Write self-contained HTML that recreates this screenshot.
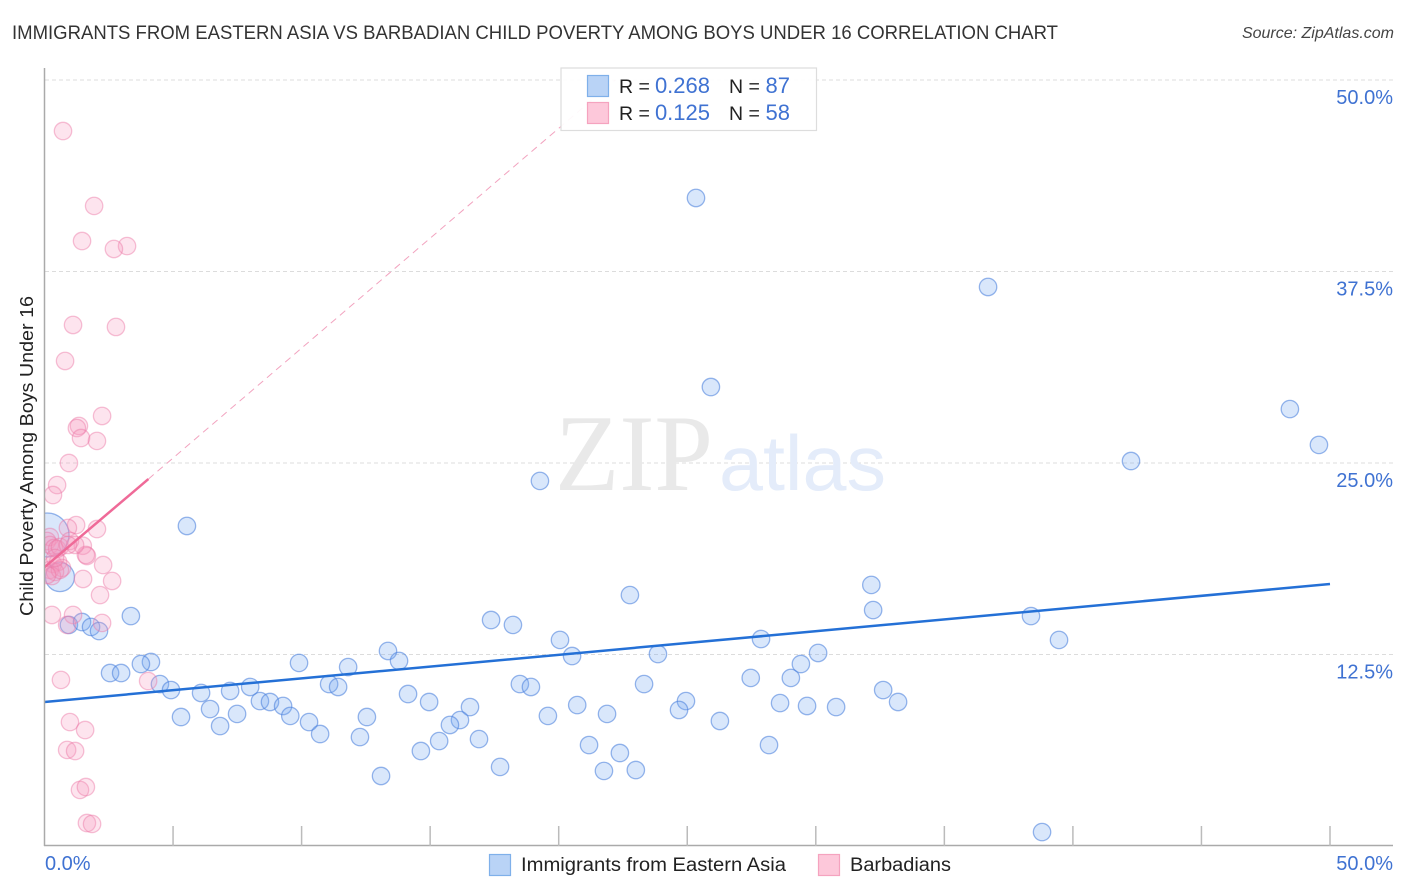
<!DOCTYPE html>
<html lang="en">
<head>
<meta charset="utf-8">
<title>Immigrants from Eastern Asia vs Barbadian Child Poverty Among Boys Under 16 Correlation Chart</title>
<style>
html,body{margin:0;padding:0;background:#fff;}
svg{display:block;font-family:"Liberation Sans",sans-serif;}
</style>
</head>
<body>
<svg id="chart" xmlns="http://www.w3.org/2000/svg" width="1406" height="892" viewBox="0 0 1406 892">
  <rect x="0" y="0" width="1406" height="892" fill="#fff"/>

  <g id="grid"></g>

  <g>
    <text x="555" y="490" font-family="'Liberation Serif',serif" font-size="109" fill="#e9e9e9" textLength="158" lengthAdjust="spacingAndGlyphs">ZIP</text>
    <text x="719" y="490" font-size="78" fill="#e4ecfa" textLength="167" lengthAdjust="spacingAndGlyphs">atlas</text>
  </g>

  <g id="marks"></g>
  <g id="trends"></g>

  <rect x="0" y="60" width="44.500" height="800" fill="#fff"/>
  <text x="12" y="39" font-size="19" fill="#333" textLength="1046" lengthAdjust="spacingAndGlyphs">IMMIGRANTS FROM EASTERN ASIA VS BARBADIAN CHILD POVERTY AMONG BOYS UNDER 16 CORRELATION CHART</text>
  <text x="1394" y="38" font-size="16" font-style="italic" fill="#444" text-anchor="end">Source: ZipAtlas.com</text>

  <g id="axes">
    <line x1="44.5" y1="68" x2="44.5" y2="846" stroke="#aaa" stroke-width="1.5"/>
    <line x1="44" y1="845.5" x2="1393" y2="845.5" stroke="#aaa" stroke-width="1.5"/>
  </g>
  <g id="tick-labels" font-size="20" fill="#3f72d2"></g>

  <text transform="translate(33,456) rotate(-90)" font-size="18.5" fill="#222" text-anchor="middle" textLength="320" lengthAdjust="spacingAndGlyphs">Child Poverty Among Boys Under 16</text>

  <g>
    <rect x="561" y="68" width="255.500" height="62.500" fill="#fff" fill-opacity="0.93" stroke="#ddd" stroke-width="1.2"/>
    <rect x="587.500" y="75.500" width="21" height="21" fill="#b9d3f6" stroke="#7fb0ea" stroke-width="1.2"/>
    <rect x="587.500" y="102.500" width="21" height="21" fill="#fdc8da" stroke="#f5a3bf" stroke-width="1.2"/>
    <g font-size="19.500">
      <text x="619" y="93" fill="#222">R =</text>
      <text x="710" y="93" fill="#3f72d2" text-anchor="end" font-size="22">0.268</text>
      <text x="729" y="93" fill="#222">N =</text>
      <text x="790" y="93" fill="#3f72d2" text-anchor="end" font-size="22">87</text>
      <text x="619" y="120" fill="#222">R =</text>
      <text x="710" y="120" fill="#3f72d2" text-anchor="end" font-size="22">0.125</text>
      <text x="729" y="120" fill="#222">N =</text>
      <text x="790" y="120" fill="#3f72d2" text-anchor="end" font-size="22">58</text>
    </g>
  </g>

  <g>
    <rect x="489.500" y="854.500" width="21" height="21" fill="#b9d3f6" stroke="#7fb0ea" stroke-width="1.2"/>
    <text x="521" y="871" font-size="19" fill="#222" textLength="265" lengthAdjust="spacingAndGlyphs">Immigrants from Eastern Asia</text>
    <rect x="818.500" y="854.500" width="21" height="21" fill="#fdc8da" stroke="#f5a3bf" stroke-width="1.2"/>
    <text x="850" y="871" font-size="19" fill="#222" textLength="101" lengthAdjust="spacingAndGlyphs">Barbadians</text>
  </g>
</svg>
<script>
var yGridValues = [50, 37.5, 25, 12.5];
var xTickValues = [5, 10, 15, 20, 25, 30, 35, 40, 45, 50];
var yTickLabels = ["50.0%", "37.5%", "25.0%", "12.5%"];
var xTickLabels = ["0.0%", "50.0%"];

var blueX = [25.34,36.70,25.92,48.44,49.57,42.26,19.27,5.54,32.16,22.77,32.23,17.37,18.22,38.37,3.36,39.46,20.05,27.87,13.36,20.52,23.86,30.09,9.90,13.79,4.14,3.75,11.81,29.42,2.55,2.98,29.03,27.47,4.49,4.92,11.07,11.42,18.49,18.92,23.32,32.62,6.09,7.22,8.00,14.14,8.38,8.77,9.28,14.96,20.72,24.95,28.61,29.66,30.79,33.20,16.55,6.44,24.68,21.88,5.31,7.49,9.56,12.54,19.58,16.16,15.77,10.29,26.27,6.83,10.72,12.27,15.35,16.90,21.18,28.18,14.64,22.38,17.72,21.76,23.00,13.09,38.80,0.95,1.46,1.81,2.12];
var blueY = [42.30,36.49,29.96,28.52,26.18,25.13,23.83,20.89,17.04,16.38,15.40,14.75,14.43,15.01,15.01,13.45,13.45,13.51,12.73,12.40,12.53,12.60,11.95,12.08,12.01,11.88,11.68,11.88,11.29,11.29,10.97,10.97,10.57,10.18,10.57,10.38,10.57,10.38,10.57,10.18,9.99,10.12,10.38,9.92,9.46,9.40,9.14,9.40,9.20,9.46,9.33,9.14,9.07,9.40,9.07,8.94,8.88,8.62,8.42,8.62,8.49,8.42,8.49,8.22,7.90,8.09,8.16,7.83,7.31,7.11,6.85,6.98,6.59,6.59,6.20,6.07,5.16,4.90,4.96,4.57,0.91,14.43,14.62,14.30,14.03];
var blueBigX = [0.10, 0.60];
var blueBigY = [20.30, 17.55];
var blueBigWeight = [22, 14.5];

var pinkX = [0.72,1.93,1.46,3.21,2.70,1.11,2.78,0.80,2.24,1.34,1.26,1.42,2.04,0.95,0.49,0.33,1.23,0.91,2.04,1.49,1.65,1.61,2.28,2.63,1.50,2.16,0.29,1.11,2.24,0.88,0.64,4.03,0.99,1.58,0.88,1.19,1.38,1.61,1.65,1.85,0.21,0.10,0.21,0.37,0.49,0.60,0.99,1.19,0.91,0.33,0.53,0.68,0.21,0.41,0.29,0.60,0.10,0.41];
var pinkY = [46.67,41.78,39.49,39.16,38.97,34.01,33.88,31.66,28.07,27.42,27.28,26.63,26.44,25.00,23.56,22.91,20.95,20.76,20.69,19.60,18.93,19.00,18.34,17.30,17.43,16.38,15.08,15.08,14.56,14.43,10.84,10.77,8.09,7.57,6.27,6.20,3.66,3.85,1.50,1.44,20.17,19.91,19.65,19.45,19.39,19.52,19.91,19.65,19.65,18.41,18.54,18.15,18.02,17.89,17.62,18.02,17.69,18.80];

var blueTrendX = [0, 50];
var blueTrendY = [9.40, 17.10];
var pinkSolidX = [0, 4.04];
var pinkSolidY = [18.20, 23.95];
var pinkDashX = [4.04, 22.2];
var pinkDashY = [23.95, 50];

var NS = "http://www.w3.org/2000/svg";
function xScale(v) { return 44.5 + v * 25.71; }
function yScale(v) { return 846 - v * 15.32; }
function make(tag, attrs, parent) {
  var el = document.createElementNS(NS, tag);
  for (var k in attrs) el.setAttribute(k, attrs[k]);
  parent.appendChild(el);
  return el;
}

var grid = document.getElementById("grid");
yGridValues.forEach(function (v) {
  var el = make("line", { x1: 45, x2: 1393, y1: yScale(v), y2: yScale(v), stroke: "#dcdcdc", "stroke-width": 1, "stroke-dasharray": "4 3" }, grid);
  
  
});

var axes = document.getElementById("axes");
xTickValues.forEach(function (v) {
  var el = make("line", { x1: xScale(v), x2: xScale(v), y1: 826, y2: 846, stroke: "#bbb", "stroke-width": 1.5 }, axes);
  
  
});

var labels = document.getElementById("tick-labels");
yTickLabels.forEach(function (t, i) {
  var el = make("text", { x: 1393, y: yScale(yGridValues[i]) + 24, "text-anchor": "end" }, labels);
  el.textContent = t;
  
  
});
xTickLabels.forEach(function (t, i) {
  var el = make("text", { x: i === 0 ? 45 : 1393, y: 870, "text-anchor": i === 0 ? "start" : "end" }, labels);
  el.textContent = t;
  
  
});

var marks = document.getElementById("marks");
function drawPoint(x, y, r, fill, stroke) {
  return make("circle", { cx: xScale(x), cy: yScale(y), r: r, fill: fill, stroke: stroke, "stroke-width": 1.3 }, marks);
}
var blueFill = "rgba(120,170,240,0.28)", blueStroke = "rgba(75,130,220,0.58)";
var pinkFill = "rgba(248,150,190,0.26)", pinkStroke = "rgba(235,120,165,0.46)";
blueBigX.forEach(function (x, i) {
  var c = drawPoint(x, blueBigY[i], blueBigWeight[i], blueFill, blueStroke);
  
  
});
blueX.forEach(function (x, i) {
  var c = drawPoint(x, blueY[i], 8.7, blueFill, blueStroke);
  
  
});
pinkX.forEach(function (x, i) {
  var c = drawPoint(x, pinkY[i], 8.7, pinkFill, pinkStroke);
  
  
});

var trends = document.getElementById("trends");
var dashed = make("line", { x1: xScale(pinkDashX[0]), y1: yScale(pinkDashY[0]), x2: xScale(pinkDashX[1]), y2: yScale(pinkDashY[1]), stroke: "#f2a3bf", "stroke-width": 1, "stroke-dasharray": "7 5" }, trends);


var pinkLine = make("line", { x1: xScale(pinkSolidX[0]), y1: yScale(pinkSolidY[0]), x2: xScale(pinkSolidX[1]), y2: yScale(pinkSolidY[1]), stroke: "#ef6a98", "stroke-width": 2.5 }, trends);


var blueLine = make("line", { x1: xScale(blueTrendX[0]), y1: yScale(blueTrendY[0]), x2: xScale(blueTrendX[1]), y2: yScale(blueTrendY[1]), stroke: "#2470d6", "stroke-width": 2.5 }, trends);


</script>
</body>
</html>
